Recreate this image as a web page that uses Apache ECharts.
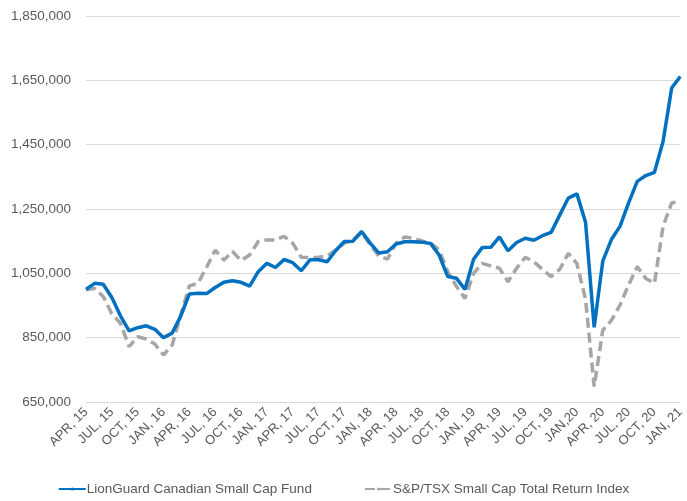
<!DOCTYPE html>
<html>
<head>
<meta charset="utf-8">
<script src="https://cdn.jsdelivr.net/npm/echarts@6/dist/echarts.min.js"></script>
<style>
html,body{margin:0;padding:0;background:#fff;}
#chart{width:687px;height:501px;}
</style>
</head>
<body>
<div id="chart"></div>
<script>
// Monthly categories, Apr 2015 .. Jan 2021 (70 months)
const months = ['APR 15','MAY 15','JUN 15','JUL 15','AUG 15','SEP 15','OCT 15','NOV 15','DEC 15',
  'JAN 16','FEB 16','MAR 16','APR 16','MAY 16','JUN 16','JUL 16','AUG 16','SEP 16','OCT 16','NOV 16','DEC 16',
  'JAN 17','FEB 17','MAR 17','APR 17','MAY 17','JUN 17','JUL 17','AUG 17','SEP 17','OCT 17','NOV 17','DEC 17',
  'JAN 18','FEB 18','MAR 18','APR 18','MAY 18','JUN 18','JUL 18','AUG 18','SEP 18','OCT 18','NOV 18','DEC 18',
  'JAN 19','FEB 19','MAR 19','APR 19','MAY 19','JUN 19','JUL 19','AUG 19','SEP 19','OCT 19','NOV 19','DEC 19',
  'JAN 20','FEB 20','MAR 20','APR 20','MAY 20','JUN 20','JUL 20','AUG 20','SEP 20','OCT 20','NOV 20','DEC 20',
  'JAN 21'];

// Tick labels shown every third month
const tickLabels = ['APR, 15','JUL, 15','OCT, 15','JAN, 16','APR, 16','JUL, 16','OCT, 16','JAN, 17',
  'APR, 17','JUL, 17','OCT, 17','JAN, 18','APR, 18','JUL, 18','OCT, 18','JAN, 19','APR, 19','JUL, 19',
  'OCT, 19','JAN,20','APR, 20','JUL, 20','OCT, 20','JAN, 21'];

const fund = [1000000,1019000,1016000,975000,918000,871000,881000,887000,876000,
  850000,864000,917000,986000,988000,987000,1006000,1022000,1027000,1022000,1010000,1055000,
  1081000,1068000,1093000,1083000,1058000,1092000,1092000,1086000,1121000,1149000,1150000,1180000,
  1144000,1113000,1117000,1141000,1148000,1148000,1147000,1143000,1107000,1040000,1035000,1000000,
  1094000,1130000,1131000,1163000,1120000,1146000,1159000,1153000,1167000,1177000,1231000,1284000,
  1297000,1209000,882000,1088000,1155000,1196000,1269000,1336000,1354000,1364000,1460000,1626000,
  1662000];

const index = [1000000,1003000,978000,924000,895000,822000,853000,846000,830000,
  796000,827000,920000,1011000,1019000,1069000,1122000,1091000,1118000,1090000,1107000,1149000,
  1154000,1154000,1165000,1144000,1100000,1099000,1100000,1104000,1123000,1144000,1154000,1177000,
  1139000,1104000,1094000,1144000,1163000,1159000,1151000,1144000,1123000,1055000,1010000,972000,
  1050000,1081000,1073000,1066000,1024000,1066000,1100000,1086000,1062000,1040000,1062000,1112000,
  1080000,970000,698000,873000,904000,951000,1014000,1071000,1034000,1019000,1196000,1269000,
  1274000];

const seriesNames = ['LionGuard Canadian Small Cap Fund','S&P/TSX Small Cap Total Return Index'];

const chart = echarts.init(document.getElementById('chart'), null, {renderer:'canvas'});
const font = 'Liberation Sans';
chart.setOption({
  animation:false,
  backgroundColor:'#ffffff',
  grid:{left:86,right:1,top:16,bottom:99,containLabel:false},
  legend:{
    bottom:0,left:'center',
    itemWidth:27,itemHeight:4,itemGap:52,
    textStyle:{color:'#595959',fontSize:13.5,fontFamily:font,padding:[0,0,0,-4]},
    data:seriesNames
  },
  xAxis:{
    type:'category',
    data:months,
    boundaryGap:false,
    axisLine:{show:false},
    axisTick:{show:false},
    splitLine:{show:false},
    axisLabel:{
      interval:2,
      rotate:45,
      margin:8,
      color:'#595959',
      fontSize:13,
      fontFamily:font,
      formatter:(v,i)=>tickLabels[Math.floor(i/3)]
    }
  },
  yAxis:{
    type:'value',
    min:650000,max:1850000,interval:200000,
    axisLine:{show:false},
    axisTick:{show:false},
    splitLine:{lineStyle:{color:'#d9d9d9',width:1}},
    axisLabel:{
      color:'#595959',fontSize:13.5,fontFamily:font,margin:15,
      formatter:v=>v.toLocaleString('en-US')
    }
  },
  series:[
    {name:seriesNames[1],type:'line',data:index,symbol:'none',
     lineStyle:{color:'#a6a6a6',width:3.5,type:[10,5]},itemStyle:{color:'#a6a6a6'},z:2},
    {name:seriesNames[0],type:'line',data:fund,symbol:'none',
     lineStyle:{color:'#0070c0',width:3.5},itemStyle:{color:'#0070c0'},z:3}
  ]
});
</script>
</body>
</html>
